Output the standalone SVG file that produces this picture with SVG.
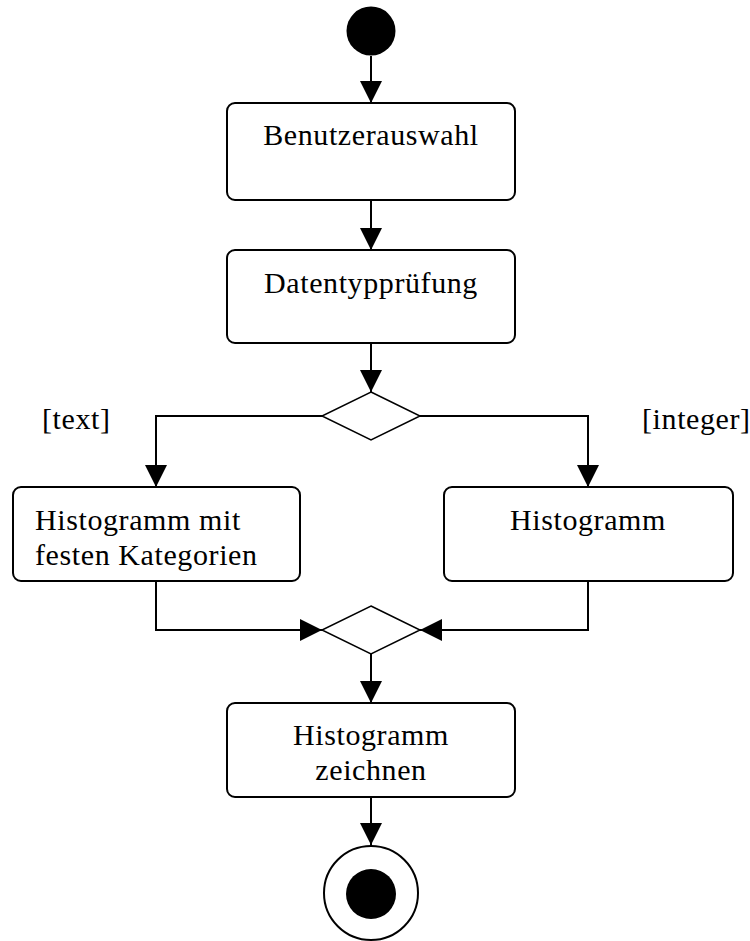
<svg xmlns="http://www.w3.org/2000/svg" width="750" height="941" viewBox="0 0 750 941">
<defs>
<style>
.box{fill:#fff;stroke:#000;stroke-width:2}
.dia{fill:#fff;stroke:#000;stroke-width:1.5}
.lbl{font-family:"Liberation Serif","Times New Roman",serif;font-size:30px;fill:#000;letter-spacing:0.6px}
.c{text-anchor:middle}
.edge{fill:none;stroke:#000;stroke-width:2;marker-end:url(#ah)}
</style>
<marker id="ah" markerUnits="userSpaceOnUse" markerWidth="22" markerHeight="22" refX="20" refY="10" orient="auto" viewBox="0 0 20 20">
<path d="M0,0 L20,10 L0,20 z" fill="#000"/>
</marker>
</defs>
<rect width="750" height="941" fill="#fff"/>
<g id="connectors">
<path class="edge" d="M371,56 V103"/>
<path class="edge" d="M371,200 V250"/>
<path class="edge" d="M371,343 V392"/>
<path class="edge" d="M322,416 H156 V487"/>
<path class="edge" d="M420,416 H588 V487"/>
<path class="edge" d="M156,581 V630 H322"/>
<path class="edge" d="M588,581 V630 H420"/>
<path class="edge" d="M371,654 V703"/>
<path class="edge" d="M371,797 V845"/>
</g>
<g id="start"><circle cx="371" cy="31" r="24.5" fill="#000"/></g>
<g id="benutzerauswahl">
<rect class="box" x="227" y="103" width="288" height="97" rx="8"/>
<text class="lbl c" x="371" y="145">Benutzerauswahl</text>
</g>
<g id="datentyppruefung">
<rect class="box" x="227" y="250" width="288" height="93" rx="8"/>
<text class="lbl c" x="371" y="293">Datentypprüfung</text>
</g>
<g id="decision">
<polygon class="dia" points="371,392 420,416 371,440 322,416"/>
</g>
<g id="guard-text"><text class="lbl" x="42" y="429">[text]</text></g>
<g id="guard-integer"><text class="lbl" x="642" y="429">[integer]</text></g>
<g id="histogramm-kategorien">
<rect class="box" x="13" y="487" width="287" height="94" rx="8"/>
<text class="lbl" x="35" y="530">Histogramm mit</text>
<text class="lbl" x="35" y="565">festen Kategorien</text>
</g>
<g id="histogramm">
<rect class="box" x="444" y="487" width="289" height="94" rx="8"/>
<text class="lbl c" x="588" y="530">Histogramm</text>
</g>
<g id="merge">
<polygon class="dia" points="371,606 420,630 371,654 322,630"/>
</g>
<g id="histogramm-zeichnen">
<rect class="box" x="227" y="703" width="288" height="94" rx="8"/>
<text class="lbl c" x="371" y="745">Histogramm</text>
<text class="lbl c" x="371" y="780">zeichnen</text>
</g>
<g id="end">
<circle cx="371" cy="893" r="47" fill="#fff" stroke="#000" stroke-width="2"/>
<circle cx="371" cy="894" r="25" fill="#000"/>
</g>
</svg>
